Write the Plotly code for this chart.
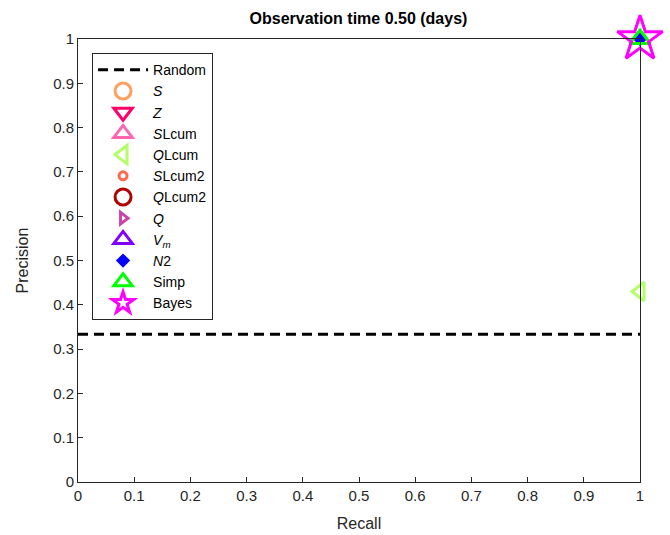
import plotly.graph_objects as go

# Data
random_x = [0, 1]
random_y = [0.3333, 0.3333]

names = ["<i>S</i>", "<i>Z</i>", "<i>S</i>Lcum", "<i>Q</i>Lcum", "<i>S</i>Lcum2", "<i>Q</i>Lcum2",
         "<i>Q</i>", "<i>V</i><sub><i>m</i></sub>", "<i>N</i>2", "Simp", "Bayes"]
recall = [None, None, None, 1, None, None, None, None, 1, 1, 1]
precision = [None, None, None, 0.43, None, None, None, None, 1, 1, 1]

tick_vals = [0, 0.1, 0.2, 0.3, 0.4, 0.5, 0.6, 0.7, 0.8, 0.9, 1]
tick_labels = ["0", "0.1", "0.2", "0.3", "0.4", "0.5", "0.6", "0.7", "0.8", "0.9", "1"]

colors = ["#FFA060", "#FF0066", "#FF66B2", "#B2FF66", "#FF6A4D", "#B20000",
          "#CC44AA", "#7F00FF", "#0000FF", "#00FF00", "#FF00FF"]
symbols = ["circle-open", "triangle-down-open", "triangle-up-open", "triangle-left-open",
           "circle-open", "circle-open", "triangle-right-open", "triangle-up-open",
           "diamond", "triangle-up-open", "star-open"]
sizes = [20, 18, 18, 16, 8, 20, 10, 18, 11, 18, 34]

fig = go.Figure()
fig.add_trace(go.Scatter(x=random_x, y=random_y, mode="lines", name="Random",
                         line=dict(color="black", width=3, dash="10px,6px")))
for i in range(len(names)):
    fig.add_trace(go.Scatter(
        x=[recall[i]], y=[precision[i]], mode="markers", name=names[i],
        cliponaxis=False,
        marker=dict(symbol=symbols[i], color=colors[i], size=sizes[i],
                    line=dict(color=colors[i], width=3 if symbols[i] != "diamond" else 0))))

axis_common = dict(range=[0, 1], tickvals=tick_vals, ticktext=tick_labels, tickangle=0,
                   ticks="inside", ticklen=5, tickcolor="#262626",
                   showline=True, linecolor="#262626", linewidth=1, mirror=True,
                   showgrid=False, zeroline=False, automargin=False,
                   tickfont=dict(family="Liberation Sans, Arial", size=15, color="#262626"))

fig.update_layout(
    width=670, height=535,
    margin=dict(l=78, r=30, t=39, b=53),
    plot_bgcolor="white", paper_bgcolor="white",
    title=dict(text="<b>Observation time 0.50 (days)</b>", x=0.535, xanchor="center",
               y=0.965, yanchor="middle",
               font=dict(family="Liberation Sans, Arial", size=16, color="black")),
    xaxis=dict(**axis_common, title=dict(text="Recall", standoff=14,
               font=dict(family="Liberation Sans, Arial", size=16, color="#262626"))),
    yaxis=dict(**axis_common, title=dict(text="Precision", standoff=20,
               font=dict(family="Liberation Sans, Arial", size=16, color="#262626"))),
    legend=dict(x=0.025, y=0.968, xanchor="left", yanchor="top",
                bgcolor="white", bordercolor="#262626", borderwidth=1,
                font=dict(family="Liberation Sans, Arial", size=14, color="black"),
                itemwidth=50, tracegroupgap=0),
    showlegend=True,
)

fig.write_html("out.html")
